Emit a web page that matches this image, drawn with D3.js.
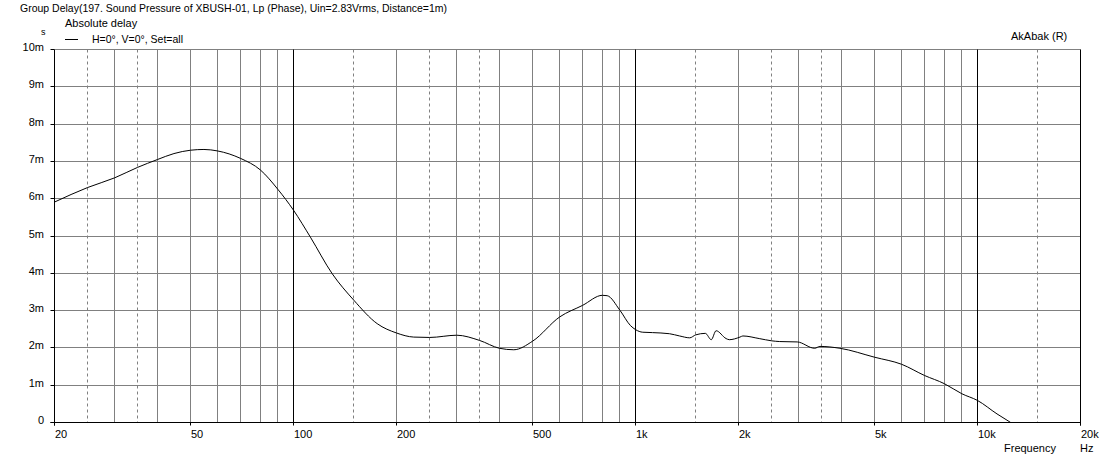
<!DOCTYPE html>
<html><head><meta charset="utf-8">
<script src="https://cdn.jsdelivr.net/npm/d3@7"></script>
<style>
html,body{margin:0;padding:0;background:#fff;}
text{font-family:"Liberation Sans",Arial,sans-serif;font-size:11px;fill:#000;}
</style></head>
<body>
<svg id="c" width="1107" height="459"></svg>
<script>
// ---- data (frequency Hz, group delay ms) ----
const freqs = [20,25,30,35,40,44.7,50,54.7,60,70,80,90,100,112,129.7,150,175.6,200,224.6,250,300,350,400,440.6,500,600,700,800,826,900,966,1000,1050,1120,1257,1345,1440,1500,1600,1665,1720,1840,1880,2020,2060,2300,2500,2640,2970,3340,3460,3960,5000,6000,7000,8000,9000,10000,11400,12500];
const delays = [5.91,6.30,6.56,6.84,7.05,7.21,7.30,7.32,7.28,7.08,6.77,6.25,5.69,4.97,3.99,3.28,2.65,2.40,2.29,2.28,2.34,2.20,1.99,1.95,2.18,2.83,3.14,3.41,3.40,3.01,2.60,2.49,2.42,2.41,2.38,2.32,2.27,2.35,2.39,2.22,2.46,2.25,2.22,2.29,2.32,2.25,2.19,2.17,2.16,1.99,2.04,1.99,1.75,1.56,1.26,1.04,0.77,0.59,0.23,0.0];
const xTickValues = [20,50,100,200,500,1000,2000,5000,10000,20000];
const xTickLabels = ["20","50","100","200","500","1k","2k","5k","10k","20k"];
const yTickValues = [0,1,2,3,4,5,6,7,8,9,10];
const yTickLabels = ["0","1m","2m","3m","4m","5m","6m","7m","8m","9m","10m"];
const titleText = "Group Delay(197. Sound Pressure of XBUSH-01, Lp (Phase), Uin=2.83Vrms, Distance=1m)";
const legendTitle = "Absolute delay";
const seriesName = "H=0°, V=0°, Set=all";

const svg = d3.select("#c");
const L=54.5, R=1080.5, T=49.5, B=422.5;
const x = d3.scaleLog().domain([20,20000]).range([L,R]);
const y = d3.scaleLinear().domain([0,10]).range([B,T]);
const px = v => Math.round(x(v)-0.5)+0.5;
const py = v => Math.round(y(v)-0.5)+0.5;

// grid
const g = svg.append("g");
const minor = [];
[10,100,1000,10000].forEach(d=>{
  [1.5,2,2.5,3,3.5,4,5,6,7,8,9].forEach(m=>{
    const f=d*m; if(f>20 && f<20000) minor.push({f, dashed:(m%1!==0)});
  });
});
yTickValues.forEach(v=>{
  if(v>0) g.append("line").attr("x1",L).attr("x2",R).attr("y1",py(v)).attr("y2",py(v)).attr("stroke","#808080");
});
minor.forEach(m=>{
  g.append("line").attr("x1",px(m.f)).attr("x2",px(m.f)).attr("y1",T).attr("y2",B)
   .attr("stroke","#808080").attr("stroke-dasharray",m.dashed?"3,3":null);
});
[100,1000,10000].forEach(f=>{
  g.append("line").attr("x1",px(f)).attr("x2",px(f)).attr("y1",T).attr("y2",B).attr("stroke","#000");
});
// axes
g.append("line").attr("x1",L).attr("x2",L).attr("y1",T).attr("y2",B+3).attr("stroke","#000");
g.append("line").attr("x1",R).attr("x2",R).attr("y1",T).attr("y2",B+3).attr("stroke","#000");
g.append("line").attr("x1",L-4).attr("x2",R).attr("y1",B).attr("y2",B).attr("stroke","#000");
// y ticks & labels
yTickValues.forEach((v,i)=>{
  g.append("line").attr("x1",L-4).attr("x2",L).attr("y1",py(v)).attr("y2",py(v)).attr("stroke","#000");
  g.append("text").attr("x",44).attr("y",py(v)+1).attr("text-anchor","end").text(yTickLabels[i]);
});
// x ticks & labels
xTickValues.forEach((v,i)=>{
  g.append("line").attr("x1",px(v)).attr("x2",px(v)).attr("y1",B).attr("y2",B+3).attr("stroke","#000");
  g.append("text").attr("x",px(v)+0.5).attr("y",438).text(xTickLabels[i]);
});

// curve
const line = d3.line().x((d,i)=>x(freqs[i])).y((d,i)=>y(delays[i])).curve(d3.curveMonotoneX);
svg.append("path").datum(delays).attr("d",line).attr("fill","none").attr("stroke","#000").attr("stroke-width",1);

// texts
svg.append("text").attr("x",20).attr("y",12).attr("textLength",427).attr("lengthAdjust","spacingAndGlyphs").text(titleText);
svg.append("text").attr("x",65).attr("y",27).text(legendTitle);
svg.append("text").attr("x",41).attr("y",35).style("font-size","9px").text("s");
svg.append("line").attr("x1",65).attr("x2",78).attr("y1",39.5).attr("y2",39.5).attr("stroke","#000");
svg.append("text").attr("x",92).attr("y",43).attr("textLength",91).attr("lengthAdjust","spacingAndGlyphs").text(seriesName);
svg.append("text").attr("x",1011).attr("y",40).text("AkAbak (R)");
svg.append("text").attr("x",1004).attr("y",452).text("Frequency");
svg.append("text").attr("x",1080).attr("y",452).text("Hz");
</script>
</body></html>
